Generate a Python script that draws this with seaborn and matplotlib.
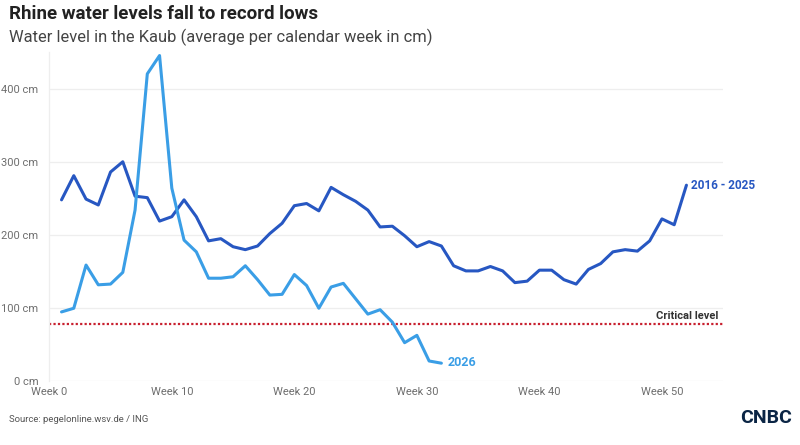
import numpy as np
import pandas as pd
import matplotlib
matplotlib.use("Agg")
import matplotlib.pyplot as plt
import seaborn as sns

# ---- Data ----
weeks_avg = list(range(1, 53))
level_avg = [248, 281, 249, 241, 286, 300, 253, 251, 219, 225,
             248, 225, 192, 195, 184, 180, 185, 202, 216, 240,
             243, 233, 265, 255, 246, 234, 211, 212, 199, 184,
             191, 185, 158, 151, 151, 157, 151, 135, 137, 152,
             152, 139, 133, 153, 161, 177, 180, 178, 192, 222,
             214, 268]

weeks_2026 = list(range(1, 33))
level_2026 = [95, 100, 159, 132, 133, 149, 234, 420, 445, 264,
              193, 177, 141, 141, 143, 158, 139, 118, 119, 146,
              131, 100, 129, 134, 113, 92, 98, 81, 53, 63,
              28, 25]

critical_level = 78
y_ticks = [0, 100, 200, 300, 400]
x_ticks = [0, 10, 20, 30, 40, 50]

dark_blue = "#2757c2"
light_blue = "#3a9ee6"

df = pd.concat([
    pd.DataFrame({"week": weeks_avg, "level": level_avg, "series": "2016 - 2025"}),
    pd.DataFrame({"week": weeks_2026, "level": level_2026, "series": "2026"}),
])

# ---- Plot ----
sns.set_theme(style="white")
plt.rcParams["font.family"] = ["Roboto", "DejaVu Sans"]

fig = plt.figure(figsize=(8, 4.45), dpi=100)
ax = fig.add_axes([0.0616, 0.1427, 0.8424, 0.7407])

sns.lineplot(data=df, x="week", y="level", hue="series",
             palette={"2016 - 2025": dark_blue, "2026": light_blue},
             linewidth=2.2, legend=False, ax=ax)

ax.axhline(critical_level, color="#c8202f", linestyle=(0, (1, 1)), linewidth=1.6, zorder=1)

ax.set_xlim(0, 55)
ax.set_ylim(0, 450)
ax.set_xticks(x_ticks)
ax.set_xticklabels([f"Week {w}" for w in x_ticks])
ax.set_yticks(y_ticks)
ax.set_yticklabels([f"{v} cm" for v in y_ticks])
ax.set_xlabel("")
ax.set_ylabel("")
ax.tick_params(axis="both", labelsize=8, colors="#6e6e6e", length=0, pad=4)
ax.tick_params(axis="y", pad=8)
ax.grid(axis="y", color="#eeeeee", linewidth=0.9)
for side in ["top", "right", "bottom"]:
    ax.spines[side].set_visible(False)
ax.spines["left"].set_color("#eeeeee")
ax.spines["left"].set_linewidth(0.9)

# Direct labels
ax.text(52.4, 268, "2016 - 2025", color=dark_blue, fontsize=8.5, fontweight="bold",
        va="center", ha="left")
ax.text(32.5, 26, "2026", color=light_blue, fontsize=9, fontweight="bold",
        va="center", ha="left")
ax.text(54.6, 89, "Critical level", color="#333333", fontsize=8, fontweight="bold",
        va="center", ha="right")

# Titles, source, logo
fig.text(0.011, 0.988, "Rhine water levels fall to record lows", fontsize=13.5,
         fontweight="bold", color="#222222", va="top", ha="left")
fig.text(0.011, 0.935, "Water level in the Kaub (average per calendar week in cm)",
         fontsize=11.9, color="#444444", va="top", ha="left")
fig.text(0.011, 0.057, "Source: pegelonline.wsv.de / ING", fontsize=6.8,
         color="#555555", va="center", ha="left")
fig.text(0.99, 0.06, "CNBC", fontsize=14, fontweight="bold", color="#0b2545",
         va="center", ha="right")

fig.savefig("out.png", dpi=100)
